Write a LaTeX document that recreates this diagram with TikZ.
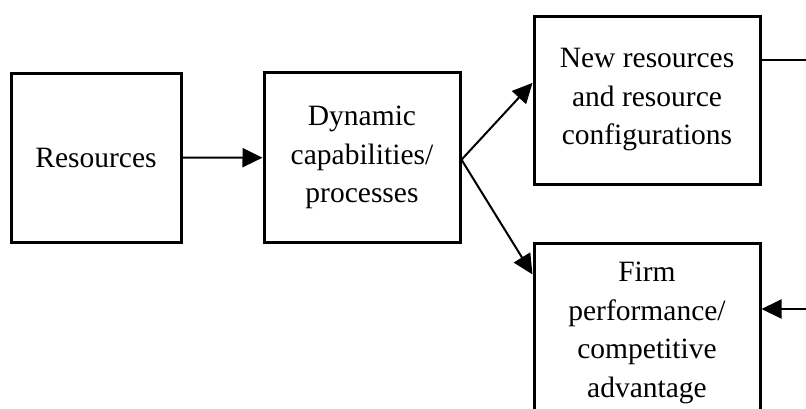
\documentclass[tikz,border=0pt]{standalone}
\usepackage{fontspec}
\setmainfont{Liberation Serif}
\usetikzlibrary{arrows.meta,calc}
\begin{document}
\begin{tikzpicture}[x=1pt,y=-1pt,
  box/.style={draw=black,line width=3pt,rectangle,inner sep=0pt,align=center,
    font=\fontsize{29.5}{38.5}\selectfont},
  conn/.style={line width=2pt,-{Triangle[length=20pt,width=19pt]}},
  plain/.style={line width=2pt}]
\useasboundingbox (0,0) rectangle (806,408);
\clip (0,0) rectangle (806,408);
\node[box,minimum width=170pt,minimum height=169pt] (res) at (96,157.5) {Resources};
\node[box,minimum width=196pt,minimum height=170pt] (dyn) at (362,157.7) {Dynamic\\capabilities/\\processes};
\node[box,minimum width=226pt,minimum height=168pt] (new) at (647,100) {New resources\\and resource\\configurations};
\node[box,minimum width=226pt,minimum height=180pt] (firm) at (647,333) {Firm\\performance/\\competitive\\advantage};
\coordinate (rout) at (806,60);
\coordinate (rin) at (806,309);
\draw[conn] (res.east) -- (dyn.west);
\draw[conn] ($(dyn.east)+(0,2)$) -- ($(new.north west)!0.4!(new.south west)$);
\draw[conn] ($(dyn.east)+(0,2)$) -- ($(firm.north west)!0.18!(firm.south west)$);
\draw[plain] (rout -| new.east) -- (rout);
\draw[conn] (rin) -- (rin -| firm.east);
\end{tikzpicture}
\end{document}
